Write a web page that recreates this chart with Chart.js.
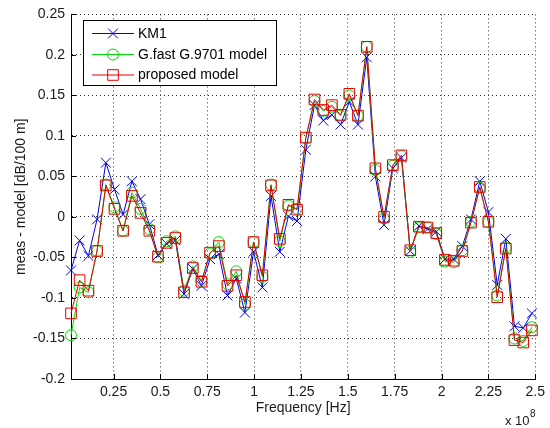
<!DOCTYPE html>
<html>
<head>
<meta charset="utf-8">
<script src="https://cdn.jsdelivr.net/npm/chart.js@4.4.1/dist/chart.umd.min.js"></script>
<style>
  html, body { margin: 0; padding: 0; background: #fff; }
  #wrap { width: 550px; height: 428px; }
</style>
</head>
<body>
<div id="wrap"><canvas id="myChart"></canvas></div>
<script>
// frequency axis in units of 1e8 Hz
var freq = [
  0.023, 0.069, 0.116, 0.162, 0.209, 0.255, 0.301, 0.348, 0.394, 0.441,
  0.487, 0.533, 0.580, 0.626, 0.673, 0.719, 0.765, 0.812, 0.858, 0.905,
  0.951, 0.997, 1.044, 1.090, 1.137, 1.183, 1.229, 1.276, 1.322, 1.369,
  1.415, 1.461, 1.508, 1.554, 1.601, 1.647, 1.693, 1.740, 1.786, 1.833,
  1.879, 1.925, 1.972, 2.018, 2.065, 2.111, 2.157, 2.204, 2.250, 2.297,
  2.343, 2.389, 2.436, 2.482
];
var km1 = [
  -0.066, -0.029, -0.048, -0.003, 0.067, 0.034, 0.003, 0.044, 0.022, -0.009,
  -0.047, -0.033, -0.029, -0.095, -0.064, -0.085, -0.052, -0.046, -0.097, -0.076,
  -0.118, -0.043, -0.087, 0.026, -0.043, 0.001, -0.005, 0.083, 0.138, 0.119,
  0.126, 0.114, 0.142, 0.114, 0.197, 0.050, -0.010, 0.060, 0.073, -0.042,
  -0.011, -0.015, -0.018, -0.052, -0.052, -0.036, -0.003, 0.044, 0.006, -0.084,
  -0.027, -0.135, -0.137, -0.119
];
var gfast = [
  -0.146, -0.087, -0.093, -0.042, 0.040, 0.012, -0.017, 0.030, 0.010, -0.015,
  -0.050, -0.030, -0.024, -0.091, -0.061, -0.079, -0.045, -0.031, -0.083, -0.067,
  -0.108, -0.031, -0.074, 0.040, -0.030, 0.014, 0.010, 0.097, 0.143, 0.131,
  0.136, 0.125, 0.150, 0.125, 0.210, 0.058, -0.002, 0.063, 0.075, -0.043,
  -0.013, -0.013, -0.021, -0.055, -0.056, -0.041, -0.006, 0.036, -0.006, -0.097,
  -0.038, -0.150, -0.153, -0.136
];
var proposed = [
  -0.119, -0.078, -0.091, -0.042, 0.039, 0.010, -0.017, 0.026, 0.005, -0.017,
  -0.049, -0.032, -0.026, -0.093, -0.063, -0.080, -0.044, -0.036, -0.085, -0.072,
  -0.105, -0.031, -0.072, 0.039, -0.027, 0.015, 0.009, 0.098, 0.145, 0.132,
  0.138, 0.126, 0.152, 0.125, 0.210, 0.060, 0.000, 0.064, 0.076, -0.041,
  -0.012, -0.013, -0.020, -0.053, -0.054, -0.042, -0.007, 0.037, -0.006, -0.099,
  -0.039, -0.152, -0.155, -0.140
];
var seriesNames = ['KM1', 'G.fast G.9701 model', 'proposed model'];
var xTicks = [0.25, 0.5, 0.75, 1, 1.25, 1.5, 1.75, 2, 2.25, 2.5];
var yTicks = [-0.2, -0.15, -0.1, -0.05, 0, 0.05, 0.1, 0.15, 0.2, 0.25];

var FONT = "'Liberation Sans', Arial, sans-serif";
Chart.defaults.font.family = FONT;
Chart.defaults.font.size = 14;
Chart.defaults.color = '#1a1a1a';

function toPoints(vals) {
  return vals.map(function(v, i) { return {x: freq[i], y: v}; });
}

// same shapes as the chart points, used for the legend samples
function drawMarker(ctx, style, r, x, y) {
  ctx.beginPath();
  if (style === 'crossRot') {
    var d = r * Math.SQRT1_2;
    ctx.moveTo(x - d, y - d); ctx.lineTo(x + d, y + d);
    ctx.moveTo(x - d, y + d); ctx.lineTo(x + d, y - d);
  } else if (style === 'circle') {
    ctx.arc(x, y, r, 0, Math.PI * 2);
  } else {
    var s = r * Math.SQRT1_2;
    ctx.rect(x - s, y - s, 2 * s, 2 * s);
  }
  ctx.stroke();
}

var matlabDecor = {
  id: 'matlabDecor',
  afterDraw: function(chart) {
    var ctx = chart.ctx;
    var xs = chart.scales.x, ys = chart.scales.y;
    var area = chart.chartArea;
    ctx.save();

    // inward tick marks
    ctx.strokeStyle = '#000';
    ctx.lineWidth = 1;
    ctx.beginPath();
    yTicks.forEach(function(v) {
      var py = Math.round(ys.getPixelForValue(v)) + 0.5;
      ctx.moveTo(area.left, py); ctx.lineTo(area.left + 5, py);
    });
    xTicks.forEach(function(v) {
      var px = Math.round(xs.getPixelForValue(v)) + 0.5;
      ctx.moveTo(px, area.bottom); ctx.lineTo(px, area.bottom - 5);
    });
    ctx.stroke();

    // x 10^8 exponent
    ctx.fillStyle = '#1a1a1a';
    ctx.textBaseline = 'alphabetic';
    ctx.textAlign = 'left';
    ctx.font = '13px ' + FONT;
    ctx.fillText('x 10', 505, 425);
    ctx.font = '10px ' + FONT;
    ctx.fillText('8', 530, 417);

    // legend box
    ctx.fillStyle = '#fff';
    ctx.fillRect(83.5, 20.5, 193, 65);
    ctx.strokeStyle = '#000';
    ctx.strokeRect(83.5, 20.5, 193, 65);
    var rows = [33.5, 54.5, 75];
    chart.data.datasets.forEach(function(ds, i) {
      var y = rows[i];
      ctx.strokeStyle = ds.borderColor;
      ctx.lineWidth = 1;
      ctx.beginPath();
      ctx.moveTo(92, y); ctx.lineTo(134, y);
      ctx.stroke();
      drawMarker(ctx, ds.pointStyle, ds.pointRadius, 113, y);
      ctx.fillStyle = '#000';
      ctx.font = '14px ' + FONT;
      ctx.textBaseline = 'middle';
      ctx.fillText(ds.label, 138, y + 0.5);
    });
    ctx.restore();
  }
};

var ctx = document.getElementById('myChart').getContext('2d');
var config = {
  type: 'line',
  data: {
    datasets: [
      {
        label: seriesNames[0],
        data: toPoints(km1),
        borderColor: '#0000e6',
        borderWidth: 1,
        pointStyle: 'crossRot',
        pointRadius: 7,
        pointBorderWidth: 1,
        pointBorderColor: '#0000e6',
        pointBackgroundColor: 'transparent',
        order: 2,
        clip: false
      },
      {
        label: seriesNames[1],
        data: toPoints(gfast),
        borderColor: '#00dd00',
        borderWidth: 1,
        pointStyle: 'circle',
        pointRadius: 5.5,
        pointBorderWidth: 1,
        pointBorderColor: '#00dd00',
        pointBackgroundColor: 'transparent',
        order: 1,
        clip: false
      },
      {
        label: seriesNames[2],
        data: toPoints(proposed),
        borderColor: '#e60000',
        borderWidth: 1,
        pointStyle: 'rect',
        pointRadius: 7.5,
        pointBorderWidth: 1,
        pointBorderColor: '#e60000',
        pointBackgroundColor: 'transparent',
        order: 0,
        clip: false
      }
    ]
  },
  options: {
    responsive: true,
    maintainAspectRatio: false,
    animation: false,
    layout: { padding: { top: 13, right: 14, bottom: 0, left: 0 } },
    plugins: {
      legend: { display: false },
      tooltip: { enabled: false }
    },
    elements: { line: { tension: 0 } },
    scales: {
      x: {
        type: 'linear',
        min: freq[0],
        max: 2.5,
        afterBuildTicks: function(s) { s.ticks = xTicks.map(function(v) { return {value: v}; }); },
        afterFit: function(s) { s.height = 49; },
        grid: { color: '#333', lineWidth: 1, drawTicks: false },
        border: { display: true, color: '#000', width: 1, dash: [1, 3] },
        ticks: {
          padding: 5, maxRotation: 0, autoSkip: false,
          callback: function(v) { return String(v); }
        },
        title: { display: true, text: 'Frequency [Hz]', padding: { top: 0, bottom: 11.6 } }
      },
      y: {
        min: -0.2,
        max: 0.25,
        afterBuildTicks: function(s) { s.ticks = yTicks.map(function(v) { return {value: v}; }); },
        afterFit: function(s) { s.width = 71; },
        grid: { color: '#333', lineWidth: 1, drawTicks: false },
        border: { display: true, color: '#000', width: 1, dash: [1, 3] },
        ticks: {
          padding: 6, autoSkip: false,
          callback: function(v) { return String(v); }
        },
        title: { display: true, text: 'meas - model [dB/100 m]', padding: { top: 12.6, bottom: 0 } }
      }
    }
  },
  plugins: [matlabDecor]
};
var myChart = new Chart(ctx, config);
</script>
</body>
</html>
